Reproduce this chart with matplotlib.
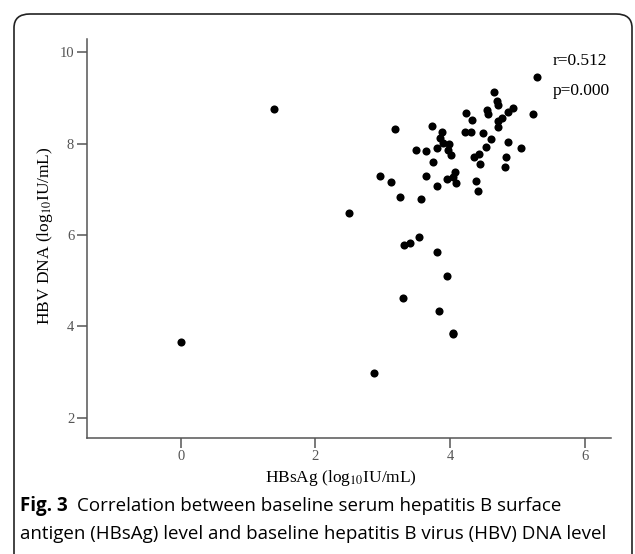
import matplotlib
matplotlib.use("Agg")
import matplotlib.pyplot as plt
from matplotlib.patches import FancyBboxPatch

plt.rcParams['font.family'] = ['Liberation Serif', 'DejaVu Serif']
plt.rcParams['mathtext.fontset'] = 'stix'

# values
hbsag = [0.0, 1.38, 2.50, 2.87, 2.96, 3.13, 3.18, 3.26, 3.30, 3.32, 3.40, 3.49,
         3.54, 3.57, 3.64, 3.64, 3.73, 3.75, 3.80, 3.80, 3.81, 3.84, 3.85, 3.88,
         3.90, 3.96, 3.96, 3.97, 3.99, 4.02, 4.04, 4.05, 4.05, 4.08, 4.09, 4.23,
         4.24, 4.31, 4.33, 4.36, 4.39, 4.41, 4.43, 4.44, 4.49, 4.53, 4.55, 4.57,
         4.61, 4.66, 4.70, 4.71, 4.72, 4.72, 4.77, 4.82, 4.83, 4.86, 4.86, 4.93,
         5.05, 5.24, 5.29]
hbv_dna = [3.66, 8.75, 6.48, 2.97, 7.28, 7.15, 8.31, 6.83, 4.62, 5.79, 5.83, 7.85,
           5.95, 6.79, 7.84, 7.29, 8.39, 7.59, 7.91, 5.62, 7.07, 4.33, 8.13, 8.26,
           8.02, 7.22, 5.10, 7.86, 7.99, 7.74, 3.85, 3.82, 7.26, 7.38, 7.13, 8.25,
           8.67, 8.25, 8.51, 7.70, 7.17, 6.96, 7.78, 7.55, 8.23, 7.93, 8.73, 8.64,
           8.11, 9.12, 8.93, 8.37, 8.84, 8.49, 8.57, 7.48, 7.70, 8.69, 8.03, 8.78,
           7.90, 8.64, 9.46]
x_ticks = [0, 2, 4, 6]
y_ticks = [2, 4, 6, 8, 10]
stats = ["r=0.512", "p=0.000"]

fig = plt.figure(figsize=(6.35, 5.54), dpi=100)
ax = fig.add_axes([0.1365, 0.2099, 0.8255, 0.7206])

ax.scatter(hbsag, hbv_dna, s=34, color='black', linewidths=0, zorder=3)

ax.set_xlim(-1.397, 6.39)
ax.set_ylim(1.56, 10.30)
ax.set_xticks(x_ticks)
ax.set_yticks(y_ticks)

for side in ['top', 'right']:
    ax.spines[side].set_visible(False)
for side in ['left', 'bottom']:
    ax.spines[side].set_color('#555555')
    ax.spines[side].set_linewidth(1.1)
ax.tick_params(axis='both', direction='out', length=7, width=1.1, color='#555555',
               labelcolor='#555555', labelsize=10.5, pad=2)

ax.set_xlabel(r'HBsAg (log$_{\mathrm{10}}$IU/mL)', fontsize=12.5, va='center')
ax.set_ylabel(r'HBV DNA (log$_{\mathrm{10}}$IU/mL)', fontsize=12.5, va='center')
ax.xaxis.set_label_coords(0.485, -0.100)
ax.yaxis.set_label_coords(-0.080, 0.505)

fig.text(0.871, 0.890, stats[0], fontsize=12.5, va='center', ha='left')
fig.text(0.871, 0.836, stats[1], fontsize=12.5, va='center', ha='left')

# caption
cap_font = ['Open Sans', 'DejaVu Sans']
fig_lbl = fig.text(0.031, 0.086, "Fig. 3", family=cap_font, fontweight='bold',
                   fontsize=13.5, va='center')
ax.annotate("Correlation between baseline serum hepatitis B surface",
            xy=(1, 0.5), xycoords=fig_lbl, xytext=(7, 0), textcoords='offset points',
            family=cap_font, fontsize=13.5, va='center', annotation_clip=False)
fig.text(0.031, 0.037,
         "antigen (HBsAg) level and baseline hepatitis B virus (HBV) DNA level",
         family=cap_font, fontsize=13.5, va='center')

# rounded outer frame (open at the bottom)
frame = FancyBboxPatch((14 / 635, -0.1), (632 - 14) / 635, (554 - 14) / 554 + 0.1,
                       boxstyle="round,pad=0,rounding_size=0.025",
                       transform=fig.transFigure, fill=False,
                       edgecolor='#222222', linewidth=1.2, clip_on=False)
fig.patches.append(frame)

fig.savefig("out.png", dpi=100)
